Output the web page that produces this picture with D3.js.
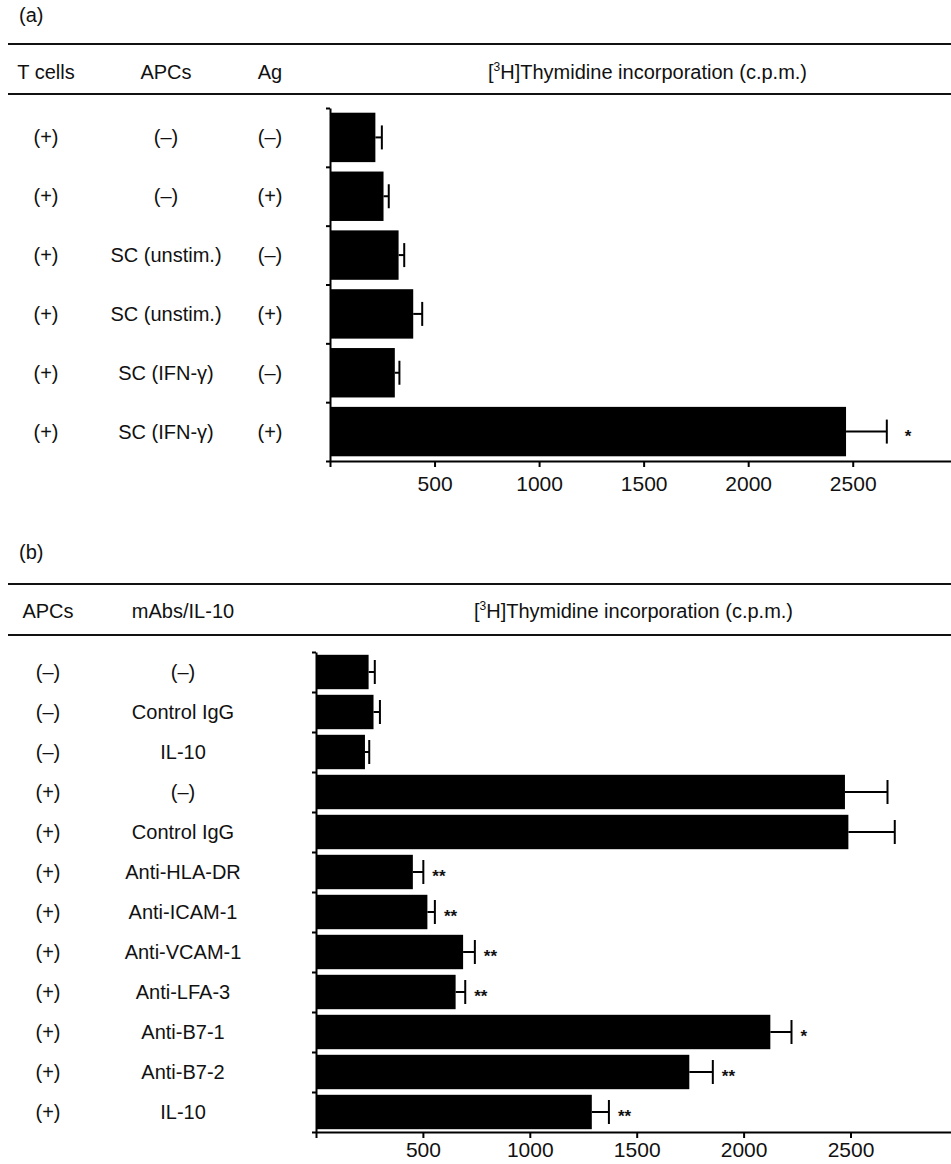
<!DOCTYPE html>
<html>
<head>
<meta charset="utf-8">
<script src="https://cdn.jsdelivr.net/npm/d3@7"></script>
<style>
  html, body { margin: 0; padding: 0; background: #fff; }
  svg { display: block; }
  text { font-family: "Liberation Sans", Arial, Helvetica, sans-serif; fill: #111; }
</style>
</head>
<body>
<svg id="fig" width="951" height="1164"></svg>
<script>
// ---- Panel (a): T-cell proliferation with Schwann cells as APCs ----
const tCellsA = ["(+)", "(+)", "(+)", "(+)", "(+)", "(+)"];
const apcsA = ["(–)", "(–)", "SC (unstim.)", "SC (unstim.)", "SC (IFN-γ)", "SC (IFN-γ)"];
const agA = ["(–)", "(+)", "(–)", "(+)", "(–)", "(+)"];
const cpmA = [217, 256, 328, 398, 310, 2468];
const errA = [31, 25, 27, 43, 22, 195];
const sigA = ["", "", "", "", "", "*"];

// ---- Panel (b): blocking antibodies / IL-10 ----
const apcsB = ["(–)", "(–)", "(–)", "(+)", "(+)", "(+)", "(+)", "(+)", "(+)", "(+)", "(+)", "(+)"];
const mabsB = ["(–)", "Control IgG", "IL-10", "(–)", "Control IgG", "Anti-HLA-DR",
               "Anti-ICAM-1", "Anti-VCAM-1", "Anti-LFA-3", "Anti-B7-1", "Anti-B7-2", "IL-10"];
const cpmB = [246, 269, 229, 2474, 2490, 453, 521, 688, 653, 2125, 1746, 1290];
const errB = [29, 30, 20, 199, 217, 49, 35, 55, 45, 99, 110, 80];
const sigB = ["", "", "", "", "", "**", "**", "**", "**", "*", "**", "**"];

const xTicks = [0, 500, 1000, 1500, 2000, 2500];
const xMax = 2970;

const svg = d3.select("#fig");

function panel(cfg) {
  const g = svg.append("g");

  // panel letter
  g.append("text").attr("x", cfg.letterX).attr("y", cfg.letterY)
    .attr("font-size", 20).text(cfg.letter);

  // table rules
  [cfg.rule1, cfg.rule2].forEach(yy => {
    g.append("line").attr("x1", 8).attr("x2", 951).attr("y1", yy).attr("y2", yy)
      .attr("stroke", "#111").attr("stroke-width", 2);
  });

  // column headers
  cfg.columns.forEach(c => {
    g.append("text").attr("x", c.x).attr("y", cfg.headerY)
      .attr("text-anchor", "middle").attr("font-size", 20).text(c.title);
  });
  const th = g.append("text").attr("x", cfg.thymX).attr("y", cfg.headerY).attr("font-size", 20);
  th.append("tspan").text("[");
  th.append("tspan").attr("font-size", 12).attr("dy", -8).text("3");
  th.append("tspan").attr("dy", 8).text("H]Thymidine incorporation (c.p.m.)");

  const n = cfg.values.length;
  const x = d3.scaleLinear().domain([0, xMax]).range([cfg.x0, 951]);
  const y = d3.scaleBand().domain(d3.range(n)).range([cfg.top, cfg.bottom])
    .paddingInner(cfg.pad).paddingOuter(cfg.pad / 2);

  // row labels for each table column
  cfg.columns.forEach(c => {
    g.selectAll(null).data(c.rows).join("text")
      .attr("x", c.x)
      .attr("y", (d, i) => y(i) + y.bandwidth() / 2)
      .attr("dy", "0.35em")
      .attr("text-anchor", "middle").attr("font-size", 20)
      .text(d => d);
  });

  // bars
  g.selectAll(null).data(cfg.values).join("rect")
    .attr("x", x(0))
    .attr("y", (d, i) => y(i))
    .attr("width", d => x(d) - x(0))
    .attr("height", y.bandwidth())
    .attr("fill", "#000");

  // error bars
  const capH = 12;
  const eb = g.selectAll(null).data(cfg.values).join("g");
  eb.append("line")
    .attr("x1", d => x(d))
    .attr("x2", (d, i) => x(d + cfg.errors[i]))
    .attr("y1", (d, i) => y(i) + y.bandwidth() / 2)
    .attr("y2", (d, i) => y(i) + y.bandwidth() / 2)
    .attr("stroke", "#000").attr("stroke-width", 2);
  eb.append("line")
    .attr("x1", (d, i) => x(d + cfg.errors[i]))
    .attr("x2", (d, i) => x(d + cfg.errors[i]))
    .attr("y1", (d, i) => y(i) + y.bandwidth() / 2 - capH)
    .attr("y2", (d, i) => y(i) + y.bandwidth() / 2 + capH)
    .attr("stroke", "#000").attr("stroke-width", 2);

  // significance marks
  g.selectAll(null).data(cfg.values).join("text")
    .attr("x", (d, i) => x(d + cfg.errors[i]) + cfg.sigGap)
    .attr("y", (d, i) => y(i) + y.bandwidth() / 2 + 10)
    .attr("font-size", 17).attr("font-weight", "bold")
    .text((d, i) => cfg.sig[i]);

  // value axis
  const xa = g.append("g").attr("transform", `translate(0,${cfg.bottom})`)
    .call(d3.axisBottom(x).tickValues(xTicks).tickSize(6).tickSizeOuter(0)
      .tickFormat(d => d === 0 ? "" : d));
  xa.select(".domain").attr("stroke", "#000").attr("stroke-width", 2);
  xa.selectAll(".tick line").attr("stroke", "#000").attr("stroke-width", 2);
  xa.selectAll(".tick text").attr("font-size", 21).attr("fill", "#111")
    .attr("font-family", "'Liberation Sans', Arial, Helvetica, sans-serif")
    .attr("y", cfg.labelGap).attr("dy", "0.71em");

  // category axis with ticks at row boundaries
  const yb = d3.scaleLinear().domain([0, n]).range([cfg.top, cfg.bottom]);
  const ya = g.append("g").attr("transform", `translate(${x(0)},0)`)
    .call(d3.axisLeft(yb).ticks(n).tickFormat("").tickSize(4).tickSizeOuter(0));
  ya.select(".domain").attr("stroke", "#000").attr("stroke-width", 2);
  ya.selectAll(".tick line").attr("stroke", "#000").attr("stroke-width", 2);
}

panel({
  letter: "(a)", letterX: 19, letterY: 22,
  rule1: 44, rule2: 94, headerY: 79, thymX: 488,
  columns: [
    { title: "T cells", x: 46, rows: tCellsA },
    { title: "APCs", x: 166, rows: apcsA },
    { title: "Ag", x: 270, rows: agA }
  ],
  values: cpmA, errors: errA, sig: sigA,
  x0: 330, top: 108, bottom: 461, pad: 0.16, sigGap: 18, labelGap: 15
});

panel({
  letter: "(b)", letterX: 19, letterY: 559,
  rule1: 584, rule2: 635, headerY: 618, thymX: 474,
  columns: [
    { title: "APCs", x: 48, rows: apcsB },
    { title: "mAbs/IL-10", x: 183, rows: mabsB }
  ],
  values: cpmB, errors: errB, sig: sigB,
  x0: 316, top: 652, bottom: 1132, pad: 0.14, sigGap: 9, labelGap: 10
});
</script>
</body>
</html>
